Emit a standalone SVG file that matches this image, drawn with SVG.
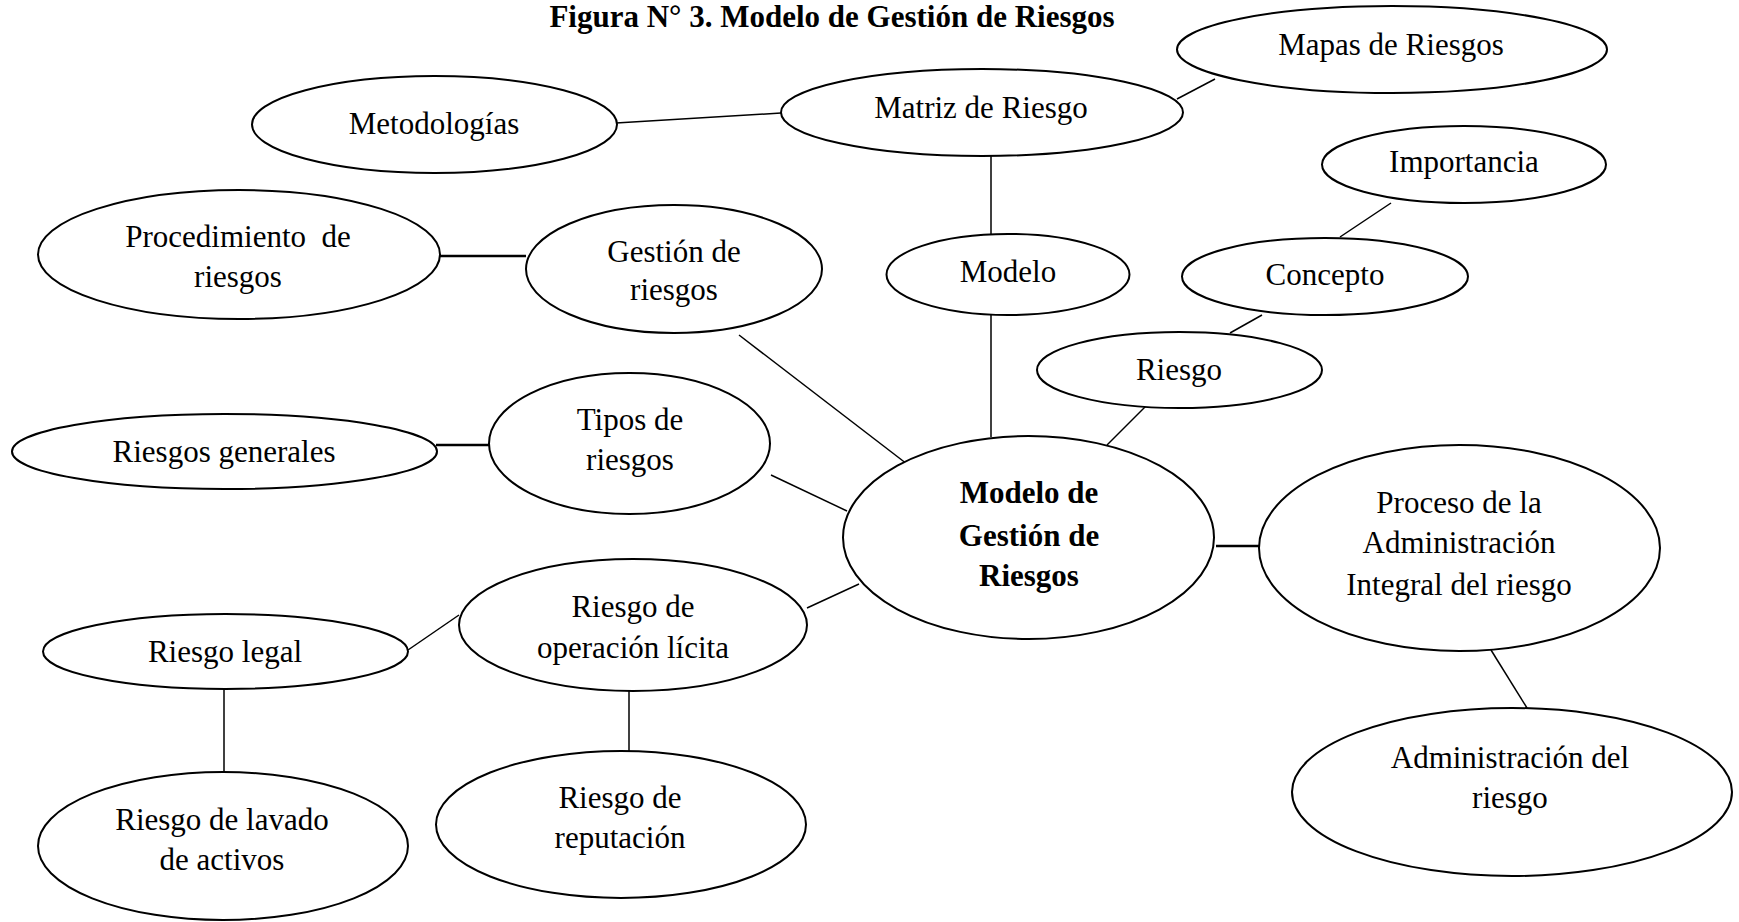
<svg xmlns="http://www.w3.org/2000/svg" width="1739" height="922" viewBox="0 0 1739 922">
<style>
  .node ellipse { fill: #fff; stroke: #000; stroke-width: 2; }
  text { font-family: "Liberation Serif", "Times New Roman", serif; font-size: 31px; fill: #000; text-anchor: middle; }
  .bold { font-weight: bold; }
  .conn line { stroke: #000; stroke-width: 1.5; }
  .conn line.thick { stroke-width: 2.5; }
</style>
<rect width="1739" height="922" fill="#fff"/>
<text class="bold" x="832" y="27">Figura N° 3. Modelo de Gestión de Riesgos</text>

<g id="connectors" class="conn">
  <line x1="616" y1="123" x2="781" y2="113"/>
  <line x1="1177" y1="99" x2="1215" y2="79"/>
  <line x1="991" y1="156" x2="991" y2="237"/>
  <line x1="1391" y1="203" x2="1340" y2="237"/>
  <line class="thick" x1="436" y1="256" x2="526" y2="256"/>
  <line x1="1262" y1="315" x2="1230" y2="333"/>
  <line x1="991" y1="315" x2="991" y2="437"/>
  <line x1="1146" y1="406" x2="1107" y2="445"/>
  <line x1="739" y1="335" x2="907" y2="464"/>
  <line class="thick" x1="436" y1="445" x2="489" y2="445"/>
  <line x1="771" y1="475" x2="847" y2="511"/>
  <line class="thick" x1="1216" y1="546" x2="1259" y2="546"/>
  <line x1="807" y1="608" x2="859" y2="584"/>
  <line x1="408" y1="650" x2="459" y2="615"/>
  <line x1="224" y1="689" x2="224" y2="772"/>
  <line x1="629" y1="686" x2="629" y2="751"/>
  <line x1="1491" y1="650" x2="1527" y2="708"/>
</g>

<g id="n-metodologias" class="node">
  <ellipse cx="434.5" cy="124.5" rx="182.5" ry="48.5"/>
  <text x="434" y="134">Metodologías</text>
</g>
<g id="n-matriz" class="node">
  <ellipse cx="982" cy="112.5" rx="201" ry="43.5"/>
  <text x="981" y="118">Matriz de Riesgo</text>
</g>
<g id="n-mapas" class="node">
  <ellipse cx="1392" cy="49.5" rx="215" ry="43.5"/>
  <text x="1391" y="55">Mapas de Riesgos</text>
</g>
<g id="n-importancia" class="node">
  <ellipse cx="1464" cy="164.5" rx="142" ry="38.5"/>
  <text x="1464" y="172">Importancia</text>
</g>
<g id="n-procedimiento" class="node">
  <ellipse cx="239" cy="254.5" rx="201" ry="64.5"/>
  <text x="238" y="247" xml:space="preserve">Procedimiento  de</text>
  <text x="238" y="287">riesgos</text>
</g>
<g id="n-gestion" class="node">
  <ellipse cx="674" cy="269" rx="148" ry="64"/>
  <text x="674" y="262">Gestión de</text>
  <text x="674" y="300">riesgos</text>
</g>
<g id="n-modelo" class="node">
  <ellipse cx="1008" cy="274.5" rx="121.5" ry="40.5"/>
  <text x="1008" y="282">Modelo</text>
</g>
<g id="n-concepto" class="node">
  <ellipse cx="1325" cy="276.5" rx="143" ry="38.5"/>
  <text x="1325" y="285">Concepto</text>
</g>
<g id="n-riesgo" class="node">
  <ellipse cx="1179.5" cy="370" rx="142.5" ry="38"/>
  <text x="1179" y="380">Riesgo</text>
</g>
<g id="n-riesgos-generales" class="node">
  <ellipse cx="224.5" cy="451.5" rx="212.5" ry="37.5"/>
  <text x="224" y="462">Riesgos generales</text>
</g>
<g id="n-tipos" class="node">
  <ellipse cx="629.5" cy="443.5" rx="140.5" ry="70.5"/>
  <text x="630" y="430">Tipos de</text>
  <text x="630" y="470">riesgos</text>
</g>
<g id="n-central" class="node">
  <ellipse cx="1028.5" cy="537.5" rx="185.5" ry="101.5"/>
  <text class="bold" x="1029" y="503">Modelo de</text>
  <text class="bold" x="1029" y="546">Gestión de</text>
  <text class="bold" x="1029" y="586">Riesgos</text>
</g>
<g id="n-proceso" class="node">
  <ellipse cx="1459.5" cy="548" rx="200.5" ry="103"/>
  <text x="1459" y="513">Proceso de la</text>
  <text x="1459" y="553">Administración</text>
  <text x="1459" y="595">Integral del riesgo</text>
</g>
<g id="n-operacion" class="node">
  <ellipse cx="633" cy="625" rx="174" ry="66"/>
  <text x="633" y="617">Riesgo de</text>
  <text x="633" y="658">operación lícita</text>
</g>
<g id="n-legal" class="node">
  <ellipse cx="225.5" cy="651.5" rx="182.5" ry="37.5"/>
  <text x="225" y="662">Riesgo legal</text>
</g>
<g id="n-lavado" class="node">
  <ellipse cx="223" cy="846" rx="185" ry="74"/>
  <text x="222" y="830">Riesgo de lavado</text>
  <text x="222" y="870">de activos</text>
</g>
<g id="n-reputacion" class="node">
  <ellipse cx="621" cy="824.5" rx="185" ry="73.5"/>
  <text x="620" y="808">Riesgo de</text>
  <text x="620" y="848">reputación</text>
</g>
<g id="n-administracion" class="node">
  <ellipse cx="1512" cy="792" rx="220" ry="84"/>
  <text x="1510" y="768">Administración del</text>
  <text x="1510" y="808">riesgo</text>
</g>
</svg>
